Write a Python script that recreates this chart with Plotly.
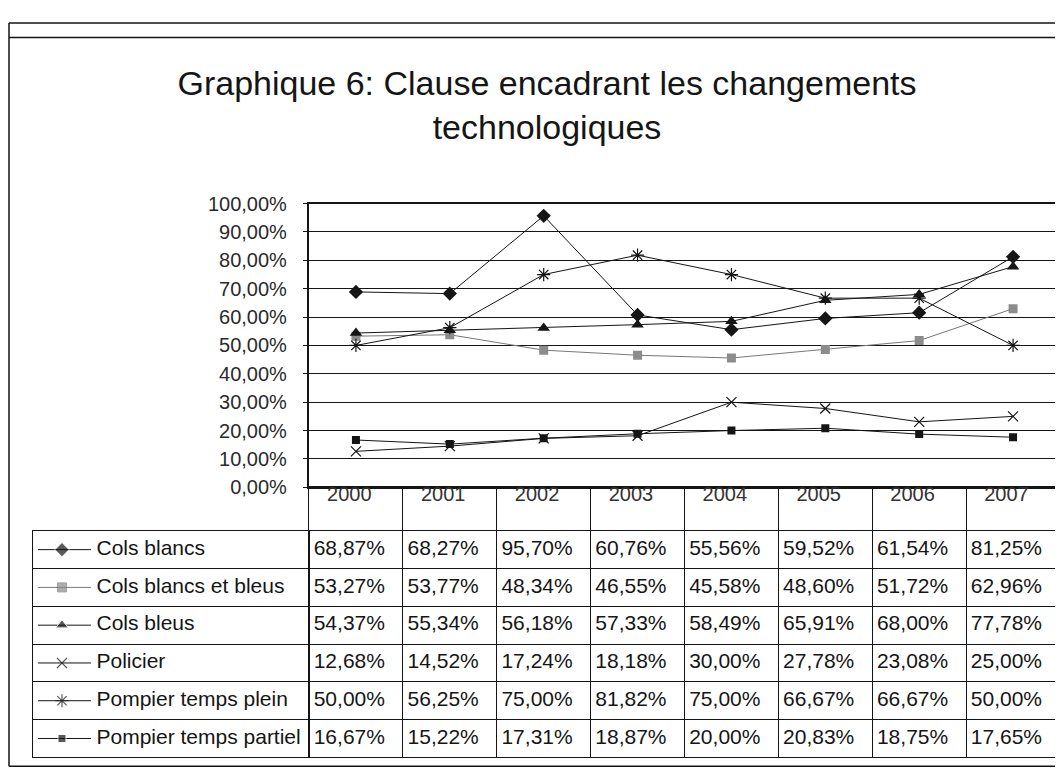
import plotly.graph_objects as go

# ---------------- data ----------------
years = ["2000", "2001", "2002", "2003", "2004", "2005", "2006", "2007"]
series_names = ["Cols blancs", "Cols blancs et bleus", "Cols bleus", "Policier",
                "Pompier temps plein", "Pompier temps partiel"]
cols_blancs = [68.87, 68.27, 95.70, 60.76, 55.56, 59.52, 61.54, 81.25]
cols_blancs_bleus = [53.27, 53.77, 48.34, 46.55, 45.58, 48.60, 51.72, 62.96]
cols_bleus = [54.37, 55.34, 56.18, 57.33, 58.49, 65.91, 68.00, 77.78]
policier = [12.68, 14.52, 17.24, 18.18, 30.00, 27.78, 23.08, 25.00]
pompier_plein = [50.00, 56.25, 75.00, 81.82, 75.00, 66.67, 66.67, 50.00]
pompier_partiel = [16.67, 15.22, 17.31, 18.87, 20.00, 20.83, 18.75, 17.65]
y_ticks = [0, 10, 20, 30, 40, 50, 60, 70, 80, 90, 100]
y_tick_labels = ["0,00%", "10,00%", "20,00%", "30,00%", "40,00%", "50,00%",
                 "60,00%", "70,00%", "80,00%", "90,00%", "100,00%"]
title_text = "Graphique 6: Clause encadrant les changements<br>technologiques"

all_series = [cols_blancs, cols_blancs_bleus, cols_bleus, policier, pompier_plein, pompier_partiel]

# ---------------- styles ----------------
OFF = 8                      # default page (body) margin of the html page
W, H = 1063 - OFF, 782 - OFF
FONT = "Liberation Sans, Arial, sans-serif"
FS = 20
FS_TABLE = 21
INK = "#151515"
styles = [
    dict(line_color=INK, marker=dict(symbol="diamond", size=11, color=INK)),
    dict(line_color="#777777", marker=dict(symbol="square", size=9, color="#8c8c8c")),
    dict(line_color=INK, marker=dict(symbol="triangle-up", size=11, color=INK)),
    dict(line_color=INK, marker=dict(symbol="x-thin", size=10, color=INK,
                                     line=dict(width=1.2, color=INK))),
    dict(line_color=INK, marker=dict(symbol="asterisk", size=11, color=INK,
                                     line=dict(width=1.2, color=INK))),
    dict(line_color=INK, marker=dict(symbol="square", size=8, color=INK)),
]

def px_x(p):
    return (p - OFF) / W

def px_y(p):
    return 1 - (p - OFF) / H

plot_left, plot_right = 309, 1060
plot_top, plot_bottom = 198, 490
table_bottom = 768
label_left = 33
n_data_rows = len(series_names)
header_units = 1.15
unit_h = (table_bottom - plot_bottom) / (n_data_rows + header_units)
first_row_top = plot_bottom + header_units * unit_h

xidx = list(range(len(years)))

fig = go.Figure()

# ---- main chart lines ----
for name, vals, st in zip(series_names, all_series, styles):
    fig.add_trace(go.Scatter(
        x=xidx, y=vals, mode="lines+markers", name=name,
        line=dict(color=st["line_color"], width=1),
        marker=st["marker"], xaxis="x", yaxis="y", showlegend=False,
        hoverinfo="skip"))

# ---- header row: years ----
fig.add_trace(go.Scatter(
    x=[i - 0.07 for i in xidx], y=[0.24] * len(years), mode="text", text=years,
    textposition="middle center", textfont=dict(family=FONT, size=FS, color="#333333"),
    xaxis="x2", yaxis="y2", showlegend=False, hoverinfo="skip"))

# ---- data table values ----
for r, vals in enumerate(all_series):
    fig.add_trace(go.Scatter(
        x=[i - 0.5 + 0.05 for i in xidx], y=[header_units + r + 0.5] * len(years),
        mode="text", text=[f"{v:.2f}".replace(".", ",") + "%" for v in vals],
        textposition="middle right",
        textfont=dict(family=FONT, size=FS_TABLE, color=INK),
        xaxis="x2", yaxis="y2", showlegend=False, hoverinfo="skip"))

# ---- label column: legend keys and names ----
for r, (name, st) in enumerate(zip(series_names, styles)):
    m = dict(st["marker"])
    m["size"] = [0, m["size"], 0]
    fig.add_trace(go.Scatter(
        x=[0.018, 0.105, 0.21], y=[r + 0.5] * 3, mode="lines+markers",
        line=dict(color=st["line_color"], width=1), marker=m,
        xaxis="x3", yaxis="y3", showlegend=False, hoverinfo="skip"))
fig.add_trace(go.Scatter(
    x=[0.23] * len(series_names), y=[r + 0.5 for r in range(len(series_names))],
    mode="text", text=series_names, textposition="middle right",
    textfont=dict(family=FONT, size=FS_TABLE, color=INK),
    xaxis="x3", yaxis="y3", showlegend=False, hoverinfo="skip"))

# ---------------- layout ----------------
fig.update_layout(
    width=W, height=H, autosize=False,
    margin=dict(l=0, r=0, t=0, b=0, pad=0),
    paper_bgcolor="white", plot_bgcolor="white",
    font=dict(family=FONT, size=FS, color=INK),
    title=dict(text=title_text, x=px_x(547), xanchor="center", y=px_y(95), yanchor="middle",
               yref="container", xref="container",
               font=dict(family=FONT, size=34, color=INK)),
    xaxis=dict(domain=[px_x(plot_left), px_x(plot_right)], range=[-0.5, len(years) - 0.5],
               showticklabels=False, ticks="",
               showgrid=False, zeroline=False, showline=True, linecolor=INK,
               linewidth=1.6, mirror=True, anchor="y"),
    yaxis=dict(domain=[px_y(plot_bottom), px_y(plot_top)], range=[0, 100],
               tickmode="array", tickvals=y_ticks, ticktext=y_tick_labels,
               ticks="outside", ticklen=4, tickcolor=INK, ticklabelstandoff=12,
               showgrid=True, gridcolor=INK, gridwidth=1.3,
               zeroline=False, showline=True, linecolor=INK, linewidth=2.2,
               mirror=True, anchor="x",
               tickfont=dict(family=FONT, size=FS, color="#2a2a2a")),
    xaxis2=dict(domain=[px_x(plot_left), px_x(plot_right)], range=[-0.5, len(years) - 0.5],
                tickmode="array", tickvals=[i + 0.5 for i in xidx[:-1]], showticklabels=False,
                ticks="", showgrid=True, gridcolor=INK, gridwidth=1,
                zeroline=False, showline=True, linecolor=INK, linewidth=1.2,
                mirror=True, anchor="y2"),
    yaxis2=dict(domain=[px_y(table_bottom), px_y(plot_bottom)],
                range=[n_data_rows + header_units, 0],
                tickmode="array",
                tickvals=[header_units + k for k in range(n_data_rows)],
                showticklabels=False,
                ticks="", showgrid=True, gridcolor=INK, gridwidth=1,
                zeroline=False, showline=True, linecolor=INK, linewidth=1.2,
                mirror=True, anchor="x2"),
    xaxis3=dict(domain=[px_x(label_left), px_x(plot_left)], range=[0, 1],
                showticklabels=False, ticks="", showgrid=False, zeroline=False,
                showline=True, linecolor=INK, linewidth=1.2, mirror=True, anchor="y3"),
    yaxis3=dict(domain=[px_y(table_bottom), px_y(first_row_top)],
                range=[n_data_rows, 0],
                tickmode="array", tickvals=list(range(1, n_data_rows)),
                showticklabels=False, ticks="", showgrid=True, gridcolor=INK,
                gridwidth=1, zeroline=False, showline=True, linecolor=INK,
                linewidth=1.2, mirror=True, anchor="x3"),
)

# outer frame of the pasted chart (decoration)
frame = dict(color=INK, width=1.5)
fig.add_shape(type="line", xref="paper", yref="paper", x0=px_x(9), x1=1.0,
              y0=px_y(12), y1=px_y(12), line=frame)
fig.add_shape(type="line", xref="paper", yref="paper", x0=px_x(9), x1=1.0,
              y0=px_y(27), y1=px_y(27), line=frame)
fig.add_shape(type="line", xref="paper", yref="paper", x0=px_x(9), x1=px_x(9),
              y0=px_y(12), y1=px_y(777), line=frame)
fig.add_shape(type="line", xref="paper", yref="paper", x0=px_x(9), x1=1.0,
              y0=px_y(777), y1=px_y(777), line=frame)

fig.write_html("out.html")
